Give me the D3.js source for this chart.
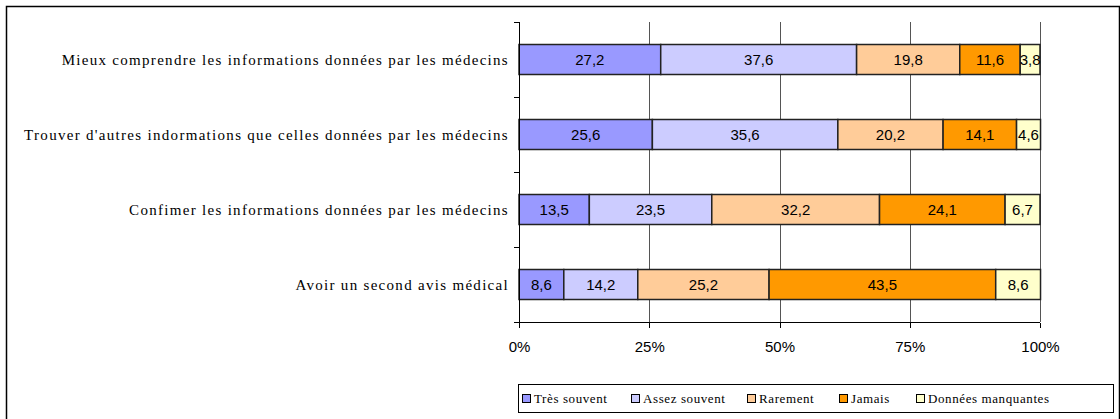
<!DOCTYPE html>
<html>
<head>
    <meta charset="utf-8" />
    <title>Stacked bar chart</title>
    <script src="https://d3js.org/d3.v7.min.js"></script>
    <style>
        body { margin: 0; background: #fff; }
        .cat { font-family: "Liberation Serif", "Noto Serif", "DejaVu Serif", serif; font-size: 15px; letter-spacing: 1.3px; fill: #000; }
        .val { font-family: "Liberation Sans", Arial, sans-serif; font-size: 15px; fill: #000; }
        .axis text { font-family: "Liberation Sans", Arial, sans-serif; font-size: 15px; fill: #000; }
        .axis path, .axis line { stroke: #000; shape-rendering: crispEdges; }
        .legend text { font-family: "Liberation Serif", "Noto Serif", "DejaVu Serif", serif; font-size: 13px; letter-spacing: 0.6px; fill: #000; }
    </style>
</head>
<body>
<div id="graphic"></div>
<script>
    var categories = [
        "Mieux comprendre les informations données par les médecins",
        "Trouver d'autres indormations que celles données par les médecins",
        "Confimer les informations données par les médecins",
        "Avoir un second avis médical"
    ];
    var series = ["Très souvent", "Assez souvent", "Rarement", "Jamais", "Données manquantes"];
    var colors = ["#9999ff", "#ccccff", "#ffcc99", "#ff9900", "#ffffcc"];

    var tresSouvent = [27.2, 25.6, 13.5, 8.6];
    var assezSouvent = [37.6, 35.6, 23.5, 14.2];
    var rarement = [19.8, 20.2, 32.2, 25.2];
    var jamais = [11.6, 14.1, 24.1, 43.5];
    var manquantes = [3.8, 4.6, 6.7, 8.6];
    var tickValues = [0, 25, 50, 75, 100];

    var seriesValues = [tresSouvent, assezSouvent, rarement, jamais, manquantes];
    var table = categories.map(function (c, i) {
        var row = { name: c };
        series.forEach(function (s, j) { row[s] = seriesValues[j][i]; });
        return row;
    });

    var W = 1120, H = 419;
    var svg = d3.select("#graphic").append("svg")
        .attr("width", W)
        .attr("height", H);

    // outer frame
    svg.append("rect")
        .attr("x", 6.5).attr("y", 6.5)
        .attr("width", 1113).attr("height", 420)
        .attr("fill", "none").attr("stroke", "#000").attr("stroke-width", 1.5);

    var x = d3.scaleLinear().domain([0, 100]).range([519, 1040]);
    var y = d3.scaleBand().domain(categories).range([22, 322]).paddingInner(0.6).paddingOuter(0.3);

    // gridlines
    svg.append("g").selectAll("line")
        .data(tickValues.slice(1))
        .enter().append("line")
        .attr("x1", function (d) { return Math.round(x(d)) + 0.5; })
        .attr("x2", function (d) { return Math.round(x(d)) + 0.5; })
        .attr("y1", 22).attr("y2", 322)
        .attr("stroke", "#555").attr("stroke-width", 1);

    var stack = d3.stack().keys(series)(table);

    var layers = svg.append("g").selectAll("g")
        .data(stack)
        .enter().append("g")
        .attr("fill", function (d, i) { return colors[i]; });

    layers.selectAll("rect")
        .data(function (d) { return d; })
        .enter().append("rect")
        .attr("x", function (d) { return x(d[0]); })
        .attr("width", function (d) { return x(d[1]) - x(d[0]); })
        .attr("y", function (d) { return y(d.data.name); })
        .attr("height", y.bandwidth())
        .attr("stroke", "#222").attr("stroke-width", 1.5);

    layers.selectAll("text")
        .data(function (d) { return d; })
        .enter().append("text")
        .attr("class", "val")
        .attr("x", function (d) { return (x(d[0]) + x(d[1])) / 2; })
        .attr("y", function (d) { return y(d.data.name) + y.bandwidth() / 2 + 5; })
        .attr("text-anchor", "middle")
        .text(function (d) { return String(+(d[1] - d[0]).toFixed(1)).replace(".", ","); });

    // y axis with ticks between categories
    var yg = svg.append("g").attr("class", "axis");
    yg.append("line").attr("x1", 519.5).attr("x2", 519.5).attr("y1", 22).attr("y2", 322);
    var bounds = d3.range(categories.length + 1).map(function (i) { return 22 + i * y.step(); });
    yg.selectAll(".tk").data(bounds).enter().append("line")
        .attr("x1", 514).attr("x2", 519)
        .attr("y1", function (d) { return Math.round(d) + 0.5; })
        .attr("y2", function (d) { return Math.round(d) + 0.5; });

    svg.append("g").selectAll("text")
        .data(categories)
        .enter().append("text")
        .attr("class", "cat")
        .attr("x", 509)
        .attr("y", function (d) { return y(d) + y.bandwidth() / 2 + 5; })
        .attr("text-anchor", "end")
        .text(function (d) { return d; });

    // x axis
    var xAxis = d3.axisBottom(x)
        .tickValues(tickValues)
        .tickSize(5)
        .tickPadding(14)
        .tickFormat(function (d) { return d + "%"; });
    svg.append("g")
        .attr("class", "axis")
        .attr("transform", "translate(0,322.5)")
        .call(xAxis)
        .call(function (g) { g.select(".domain").attr("d", "M514,0H1040"); });

    // legend
    var lg = svg.append("g").attr("class", "legend");
    lg.append("rect")
        .attr("x", 518.5).attr("y", 384.5)
        .attr("width", 595).attr("height", 28)
        .attr("fill", "#fff").attr("stroke", "#000").attr("stroke-width", 1);
    var legendX = [522, 631, 747, 839, 916];
    var items = lg.selectAll(".item")
        .data(series)
        .enter().append("g")
        .attr("transform", function (d, i) { return "translate(" + legendX[i] + ",394)"; });
    items.append("rect")
        .attr("width", 8).attr("height", 8)
        .attr("x", 0.5).attr("y", 0.5)
        .attr("fill", function (d, i) { return colors[i]; })
        .attr("stroke", "#000").attr("stroke-width", 1);
    items.append("text")
        .attr("x", 12).attr("y", 9)
        .text(function (d) { return d; });
</script>
</body>
</html>
